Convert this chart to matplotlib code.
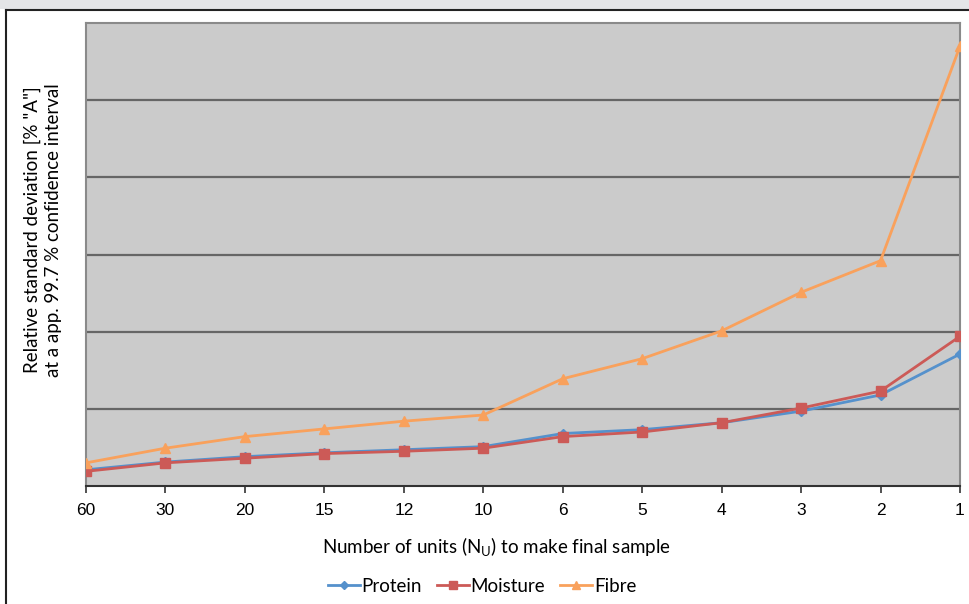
import matplotlib.pyplot as plt
from matplotlib.patches import Rectangle
from matplotlib.lines import Line2D

# category labels along x (number of units)
units = ['60', '30', '20', '15', '12', '10', '6', '5', '4', '3', '2', '1']

# values (grid units, no y labels shown)
protein = [0.21, 0.31, 0.38, 0.43, 0.47, 0.51, 0.68, 0.73, 0.82, 0.97, 1.18, 1.71]
moisture = [0.19, 0.30, 0.36, 0.42, 0.45, 0.49, 0.64, 0.70, 0.82, 1.01, 1.23, 1.94]
fibre = [0.30, 0.49, 0.64, 0.74, 0.84, 0.92, 1.39, 1.65, 2.01, 2.51, 2.92, 5.70]

plt.rcParams['font.family'] = ['Lato', 'DejaVu Sans']

fig = plt.figure(figsize=(9.69, 6.04), dpi=100)

# document frame around the chart
fig.patches.append(Rectangle((0, 1 - 9 / 604), 1, 9 / 604, transform=fig.transFigure,
                             facecolor='#e4e5e7', edgecolor='none', zorder=0))
fig.add_artist(Line2D([6 / 969, 1], [1 - 9.5 / 604, 1 - 9.5 / 604], color='#222222', lw=1.5))
fig.add_artist(Line2D([6 / 969, 6 / 969], [0, 1 - 9.5 / 604], color='#222222', lw=1.5))

ax = fig.add_axes([86 / 969, 1 - 486 / 604, (960 - 86) / 969, (486 - 23) / 604])
ax.set_facecolor('#cbcbcb')

x = range(len(units))
ax.plot(x, protein, color='#5591cc', lw=2, marker='D', ms=5, label='Protein', zorder=3)
ax.plot(x, moisture, color='#cc5a57', lw=2, marker='s', ms=7, label='Moisture', zorder=3)
ax.plot(x, fibre, color='#f9a15c', lw=2, marker='^', ms=7, label='Fibre', zorder=3)

ax.set_xlim(0, len(units) - 1)
ax.set_ylim(0, 6)
ax.set_yticks([1, 2, 3, 4, 5])
ax.set_yticklabels([])
ax.tick_params(axis='y', length=0)
ax.grid(axis='y', color='#666666', lw=1.6)
ax.set_axisbelow(True)

ax.set_xticks(list(x))
ax.set_xticklabels(units, fontfamily='Liberation Sans', fontsize=12.5)
ax.tick_params(axis='x', direction='out', length=5, width=1.2, color='#333333', pad=7)

for s in ['top', 'right', 'left']:
    ax.spines[s].set_color('#8a8a8a')
    ax.spines[s].set_linewidth(1.5)
ax.spines['bottom'].set_color('#333333')
ax.spines['bottom'].set_linewidth(1.5)
ax.spines['bottom'].set_zorder(4)

ax.set_xlabel(r'Number of units (N$_\mathregular{U}$) to make final sample', fontsize=13.5)
ax.xaxis.set_label_coords(0.470, -0.108)
ax.set_ylabel('Relative standard deviation [% "A"]\nat a app. 99.7 % confidence interval',
              fontsize=13.5, linespacing=1.3)
ax.yaxis.set_label_coords(-0.027, 0.553)

fig.legend(loc='center', bbox_to_anchor=(482 / 969, 1 - 586 / 604), ncol=3, frameon=False,
           fontsize=13.5, handlelength=1.7, handletextpad=0.1, columnspacing=0.8, markerscale=0.8)

fig.savefig('out.png', dpi=100)
